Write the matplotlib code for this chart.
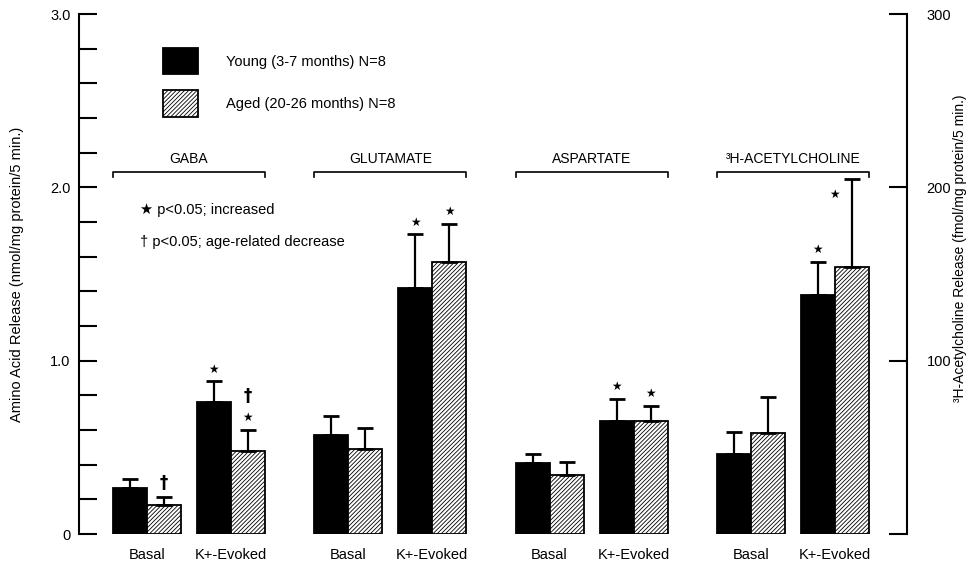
import numpy as np
import matplotlib.pyplot as plt
from matplotlib.patches import Patch

plt.rcParams['font.family'] = ['Liberation Sans', 'DejaVu Sans']
plt.rcParams['hatch.linewidth'] = 0.6

STAR = '\u2605'
DAGGER = '\u2020'

groups = ['GABA', 'GLUTAMATE', 'ASPARTATE', '\u00b3H-ACETYLCHOLINE']
conditions = ['Basal', 'K+-Evoked']

# amino acids in nmol/mg protein/5 min, acetylcholine in fmol/mg protein/5 min
young_basal = [0.265, 0.57, 0.41, 46]
young_evoked = [0.76, 1.42, 0.65, 138]
aged_basal = [0.17, 0.49, 0.34, 58]
aged_evoked = [0.48, 1.57, 0.65, 154]

young_basal_sem = [0.05, 0.11, 0.05, 13]
young_evoked_sem = [0.12, 0.31, 0.13, 19]
aged_basal_sem = [0.045, 0.12, 0.075, 21]
aged_evoked_sem = [0.12, 0.22, 0.09, 51]

# significance marks above each bar (bottom to top)
young_basal_marks = ['', '', '', '']
young_evoked_marks = [STAR, STAR, STAR, STAR]
aged_basal_marks = [DAGGER, '', '', '']
aged_evoked_marks = [STAR + DAGGER, STAR, STAR, STAR]
# star put beside the error line instead of above the cap
aged_evoked_side = [False, False, False, True]

bar_w = 1.0
group_pitch = 5.92
pair_gap = 0.47
HATCH = '////////'

fig = plt.figure(figsize=(9.71, 5.66), dpi=100)
ax = fig.add_axes([79 / 971, 1 - 534 / 566, 828 / 971, 520 / 566])
ax2 = ax.twinx()

ax.set_xlim(0, 828 / 34)
ax.set_ylim(0, 3.0)
ax2.set_ylim(0, 300)

group_x = 1.0 + group_pitch * np.arange(len(groups))


def draw_marks(axis, x, top, marks, scale, side=False):
    y = top + 0.07 * scale
    if side:
        x = x - bar_w / 2
        y = top - 0.09 * scale
    for m in marks:
        if m == STAR:
            axis.text(x, y, m, ha='center', va='center', fontsize=8.5,
                      family='DejaVu Sans')
        else:
            axis.text(x, y + 0.01 * scale, m, ha='center', va='center',
                      fontsize=12, fontweight='bold', family='DejaVu Sans')
        y += 0.115 * scale


series = [
    (young_basal, young_basal_sem, young_basal_marks, 0.5, True),
    (aged_basal, aged_basal_sem, aged_basal_marks, 1.5, False),
    (young_evoked, young_evoked_sem, young_evoked_marks, 2.0 + pair_gap + 0.5, True),
    (aged_evoked, aged_evoked_sem, aged_evoked_marks, 3.0 + pair_gap + 0.5, False),
]

for i, gx in enumerate(group_x):
    axis = ax2 if i == 3 else ax
    scale = 100 if i == 3 else 1
    for vals, sems, marks, off, young in series:
        x = gx + off
        axis.bar(x, vals[i], width=bar_w, color='black' if young else 'white',
                 edgecolor='black', linewidth=1.3,
                 hatch=None if young else HATCH, zorder=2)
        axis.errorbar(x, vals[i], yerr=[[0], [sems[i]]], fmt='none',
                      ecolor='black', elinewidth=1.6, capsize=6, capthick=2,
                      zorder=3)
        side = (not young) and off > 2 and aged_evoked_side[i]
        draw_marks(axis, x, vals[i] + sems[i], marks[i], scale, side)

    # bracket with compound name
    x0, x1 = gx, gx + 4.0 + pair_gap
    yb, d = 2.09, 0.03
    ax.plot([x0, x0, x1, x1], [yb - d, yb, yb, yb - d], color='black', lw=1.2,
            clip_on=False)
    ax.text((x0 + x1) / 2, yb + 0.035, groups[i], ha='center', va='bottom',
            fontsize=10)

# category labels under each pair
tick_pos = np.concatenate([group_x + 1.0, group_x + 3.0 + pair_gap])
tick_lab = [conditions[0]] * len(groups) + [conditions[1]] * len(groups)
ax.set_xticks(tick_pos)
ax.set_xticklabels(tick_lab, fontsize=10.5)
ax.tick_params(axis='x', length=0, pad=10)

# left axis
lticks = np.round(np.arange(0, 3.01, 0.2), 1)
ax.set_yticks(lticks)
ax.set_yticklabels(['0' if t == 0 else ('%.1f' % t if t in (1.0, 2.0, 3.0) else '')
                    for t in lticks], fontsize=10.5)
ax.tick_params(axis='y', direction='in', length=13, width=1.5, pad=6)
ax.set_ylabel('Amino Acid Release (nmol/mg protein/5 min.)', fontsize=10.5)
ax.yaxis.set_label_coords(-0.066, 0.5)

# right axis
ax2.set_yticks([0, 100, 200, 300])
ax2.set_yticklabels(['', '100', '200', '300'], fontsize=10.5)
ax2.tick_params(axis='y', direction='in', length=13, width=1.5, pad=14)
ax2.set_ylabel('\u00b3H-Acetylcholine Release (fmol/mg protein/5 min.)',
               fontsize=10, rotation=90)
ax2.yaxis.set_label_coords(1.056, 0.55)

for a in (ax, ax2):
    a.spines['top'].set_visible(False)
    a.spines['bottom'].set_visible(False)
    a.spines['left'].set_linewidth(1.5)
    a.spines['right'].set_linewidth(1.5)
ax2.spines['left'].set_visible(False)
ax.spines['right'].set_visible(False)

# legend
handles = [Patch(facecolor='black', edgecolor='black', linewidth=1.3),
           Patch(facecolor='white', edgecolor='black', linewidth=1.3, hatch=HATCH)]
ax.legend(handles, ['Young (3-7 months) N=8', 'Aged (20-26 months) N=8'],
          loc='upper left', bbox_to_anchor=((163 - 79) / 828, (534 - 48) / 520),
          frameon=False, borderpad=0, borderaxespad=0, fontsize=10.5,
          handlelength=2.4, handleheight=2.4, labelspacing=1.1,
          handletextpad=1.9)

ax.text((140 - 79) / 828, (534 - 210) / 520, STAR + ' p<0.05; increased',
        transform=ax.transAxes, ha='left', va='center', fontsize=10.5)
ax.text((140 - 79) / 828, (534 - 242) / 520, DAGGER + ' p<0.05; age-related decrease',
        transform=ax.transAxes, ha='left', va='center', fontsize=10.5)

fig.savefig('out.png', dpi=100)
